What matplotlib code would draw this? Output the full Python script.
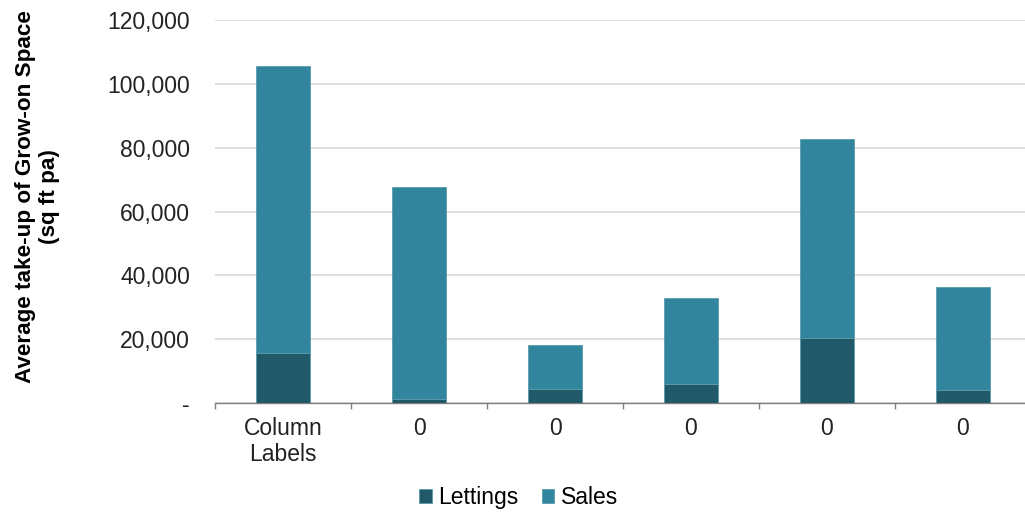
import matplotlib.pyplot as plt
import numpy as np

plt.rcParams['font.family'] = ['Liberation Sans', 'DejaVu Sans']

categories = ['Column\nLabels', '0', '0', '0', '0', '0']
lettings = [15700, 1300, 4400, 6000, 20400, 4100]
sales_total = [105500, 67800, 18200, 32900, 82800, 36400]
sales = [t - l for t, l in zip(sales_total, lettings)]

c_let = '#215968'
c_sal = '#31869d'
fs = 16.5

fig = plt.figure(figsize=(10.25, 5.14), dpi=100)
ax = fig.add_axes([0.2098, 0.216, 0.796, 0.745])

x = np.arange(len(categories))
ax.bar(x, lettings, width=0.4, color=c_let, edgecolor='#5a9aab', linewidth=0.6, label='Lettings', zorder=3)
ax.bar(x, sales, width=0.4, bottom=lettings, color=c_sal, edgecolor='#5a9aab', linewidth=0.6, label='Sales', zorder=3)

ax.set_xlim(-0.5, len(categories) - 0.5)
ax.set_ylim(0, 120000)
yt = np.arange(0, 120001, 20000)
ax.set_yticks(yt)
ax.set_yticklabels(['-'] + [f'{v:,}' for v in yt[1:]], fontsize=fs, color='#222222')
ax.yaxis.grid(True, color='#d9d9d9', linewidth=1.2, zorder=0)
ax.tick_params(axis='y', length=0, pad=18)

ax.set_xticks(x)
ax.set_xticklabels(categories, fontsize=fs, color='#222222')
ax.set_xticks(np.arange(-0.5, len(categories), 1), minor=True)
ax.tick_params(axis='x', which='major', length=0, pad=10)
ax.tick_params(axis='x', which='minor', length=4.5, color='#808080', width=1, direction='out')

for s in ['top', 'right', 'left']:
    ax.spines[s].set_visible(False)
ax.spines['bottom'].set_color('#808080')
ax.spines['bottom'].set_linewidth(1)

ax.set_ylabel('Average take-up of Grow-on Space\n(sq ft pa)', fontsize=16.2, fontweight='bold')
ax.yaxis.set_label_coords(-0.19, 0.538)

fig.legend(loc='lower center', bbox_to_anchor=(0.506, -0.03), ncol=2, frameon=False, fontsize=fs,
           handlelength=0.55, handleheight=0.55, handletextpad=0.3, columnspacing=1.0)

fig.savefig('out.png', dpi=100)
